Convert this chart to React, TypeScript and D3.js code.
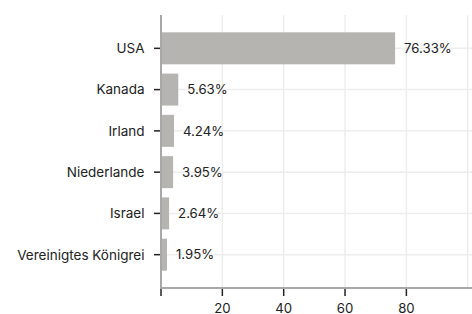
import React from "react";
import * as d3 from "d3";

const categories = ["USA", "Kanada", "Irland", "Niederlande", "Israel", "Vereinigtes Königrei"];
const values = [76.33, 5.63, 4.24, 3.95, 2.64, 1.95];
const xTicks = [0, 20, 40, 60, 80];
const xGrid = [20, 40, 60, 80, 100];

const W = 472;
const H = 314;
const FONT = "Inter, 'Noto Sans', sans-serif";

export default function App() {
  const x = d3.scaleLinear().domain([0, 100]).range([161, 467.7]);
  const y = d3
    .scaleBand<string>()
    .domain(categories)
    .range([15, 288])
    .paddingInner(0.225)
    .paddingOuter(0.42);
  const bw = y.bandwidth();
  const axisY = 288;
  return (
    <svg
      width={W}
      height={H}
      style={{ position: "absolute", left: 0, top: 0, background: "#fff" }}
      fontFamily={FONT}
    >
      {xGrid.map((t) => (
        <line key={"gx" + t} x1={x(t)} x2={x(t)} y1={15} y2={axisY} stroke="#ededed" strokeWidth={1.5} />
      ))}
      {categories.map((c) => (
        <line
          key={"gy" + c}
          x1={161}
          x2={W}
          y1={(y(c) as number) + bw / 2}
          y2={(y(c) as number) + bw / 2}
          stroke="#ededed"
          strokeWidth={1.5}
        />
      ))}
      {categories.map((c, i) => (
        <rect key={"b" + c} x={x(0)} y={y(c)} width={x(values[i]) - x(0)} height={bw} fill="#b5b4b0" />
      ))}
      {categories.map((c, i) => (
        <text
          key={"v" + c}
          x={x(values[i]) + 9}
          y={(y(c) as number) + bw / 2}
          dy="0.36em"
          fontSize={13.2}
          fill="#222"
        >
          {values[i].toFixed(2) + "%"}
        </text>
      ))}
      {/* y axis */}
      <line x1={161} x2={161} y1={15} y2={axisY} stroke="#a8a8a8" strokeWidth={2} />
      {categories.map((c) => (
        <g key={"yt" + c} transform={`translate(0,${(y(c) as number) + bw / 2})`}>
          <line x1={154} x2={160} stroke="#222" strokeWidth={1.5} />
          <text x={144.5} dy="0.36em" textAnchor="end" fontSize={13.5} fill="#222">
            {c}
          </text>
        </g>
      ))}
      {/* x axis */}
      <line x1={160} x2={W} y1={axisY} y2={axisY} stroke="#a8a8a8" strokeWidth={2} />
      {xTicks.map((t) => (
        <g key={"xt" + t} transform={`translate(${x(t)},0)`}>
          <line y1={axisY + 1} y2={axisY + 8} stroke="#222" strokeWidth={1.5} />
          {t !== 0 && (
            <text y={308} dy="0.36em" textAnchor="middle" fontSize={13.2} fill="#222">
              {t}
            </text>
          )}
        </g>
      ))}
    </svg>
  );
}
